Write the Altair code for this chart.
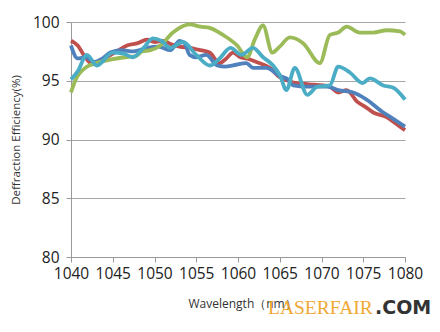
import altair as alt
import pandas as pd

red_x = [1040, 1040.8, 1041.7, 1042.6, 1043.5, 1044.5, 1045.5, 1046.7, 1048, 1049.1, 1050, 1051, 1052, 1053,
         1054.2, 1055.5, 1056.6, 1057.8, 1058.6, 1059.4, 1060.3, 1061, 1062.2, 1063.8, 1065, 1066, 1067,
         1068.5, 1070.2, 1071, 1072, 1073, 1074.3, 1075.2, 1076.2, 1077.8, 1079, 1080]
red_y = [98.4, 98.0, 97.0, 96.4, 96.6, 97.1, 97.5, 98.0, 98.2, 98.5, 98.3, 98.4, 98.1, 97.9,
         97.8, 97.6, 97.4, 96.5, 96.9, 97.4, 97.0, 96.9, 96.6, 96.1, 95.3, 95.0, 94.8,
         94.7, 94.6, 94.5, 94.0, 94.2, 93.2, 92.8, 92.3, 91.9, 91.3, 90.8]

blue_x = [1040, 1040.8, 1041.8, 1042.8, 1043.8, 1044.7, 1046, 1047.5, 1049.1, 1050.5, 1051.9, 1053, 1053.6,
          1054.2, 1055, 1056.2, 1057.5, 1058.5, 1059.4, 1061, 1061.8, 1063.4, 1065, 1066, 1066.6, 1068.3,
          1070.7, 1072, 1073.8, 1075.4, 1077.4, 1078.5, 1080]
blue_y = [98.0, 96.9, 97.0, 96.6, 96.9, 97.4, 97.6, 97.5, 97.8, 97.9, 97.6, 98.4, 98.2,
          97.2, 97.0, 97.2, 96.3, 96.2, 96.3, 96.5, 96.1, 96.1, 95.4, 95.1, 94.6, 94.5,
          94.5, 94.2, 94.0, 93.4, 92.3, 91.8, 91.1]

green_x = [1040, 1040.5, 1041.9, 1043, 1044.7, 1046.5, 1047.8, 1048.5, 1049.5, 1050.7, 1052.2, 1053, 1054.2,
           1055.5, 1056.6, 1058.2, 1059.9, 1061.1, 1062, 1063, 1064.1, 1065, 1066.2, 1067.8, 1069.8, 1071,
           1072, 1073, 1074.6, 1076.2, 1077.8, 1079.4, 1080]
green_y = [94.0, 95.0, 96.2, 96.5, 96.8, 97.0, 97.1, 97.5, 97.6, 98.0, 99.1, 99.5, 99.8,
           99.6, 99.5, 98.9, 98.0, 97.0, 98.5, 99.7, 97.4, 97.9, 98.7, 98.2, 96.5, 98.9,
           99.1, 99.6, 99.1, 99.1, 99.3, 99.2, 98.9]

cyan_x = [1040, 1040.8, 1041.9, 1043.1, 1045, 1046.3, 1047.4, 1048.7, 1049.8, 1050.8, 1051.9, 1053.4, 1055,
          1056.6, 1057.8, 1059.1, 1060.4, 1061.8, 1063, 1064.2, 1065, 1065.8, 1066.8, 1068.3, 1069.5, 1071,
          1072, 1073.4, 1074.9, 1075.8, 1077.4, 1078.6, 1080]
cyan_y = [95.1, 95.8, 97.2, 96.3, 97.4, 97.3, 97.0, 97.8, 98.6, 98.4, 97.8, 98.3, 97.2,
          96.3, 96.9, 97.8, 97.2, 97.8, 97.0, 96.3, 95.5, 94.2, 96.1, 93.8, 94.5, 94.6,
          96.2, 95.7, 94.8, 95.2, 94.6, 94.4, 93.4]

series_names = ["red", "blue", "green", "cyan"]
series_colors = ["#C0504D", "#4F81BD", "#9BBB59", "#4BACC6"]
x_ticks = [1040, 1045, 1050, 1055, 1060, 1065, 1070, 1075, 1080]
y_ticks = [80, 85, 90, 95, 100]

rows = []
for name, xs, ys in zip(series_names, [red_x, blue_x, green_x, cyan_x], [red_y, blue_y, green_y, cyan_y]):
    for i, (a, b) in enumerate(zip(xs, ys)):
        rows.append({"series": name, "wl": a, "eff": b, "order": i})
df = pd.DataFrame(rows)

lines = alt.Chart(df).mark_line(strokeWidth=3.8, interpolate="monotone").encode(
    x=alt.X("wl:Q", scale=alt.Scale(domain=[1040, 1080], nice=False),
            axis=alt.Axis(values=x_ticks, title="Wavelength（nm）", grid=False, format="d",
                          labelFontSize=15.5, labelFont="Open Sans", labelColor="#222",
                          labelOverlap=False, labelFlush=False,
                          labelPadding=4, tickSize=5, tickColor="#999", domainColor="#999",
                          titleFont="Open Sans", titleFontSize=12, titleFontWeight="normal",
                          titleColor="#333", titlePadding=17, titleX=117, titleAnchor="start",
                          titleAlign="left")),
    y=alt.Y("eff:Q", scale=alt.Scale(domain=[80, 100], nice=False),
            axis=alt.Axis(values=y_ticks, title="Deffraction Efficiency(%)", grid=True,
                          gridColor="#A6A6A6", gridWidth=1.2,
                          labelFontSize=15.5, labelFont="Open Sans", labelColor="#222",
                          labelPadding=7, tickSize=5, tickColor="#999", domainColor="#999",
                          titleFont="Open Sans", titleFontSize=11.5, titleFontWeight="normal",
                          titleColor="#333", titlePadding=11)),
    color=alt.Color("series:N", scale=alt.Scale(domain=series_names, range=series_colors), legend=None),
    order=alt.Order("order:Q"),
    detail="series:N",
)

wm1 = alt.Chart(pd.DataFrame({"t": ["LASERFAIR"]})).mark_text(
    font="Liberation Serif", fontSize=19.5, color="#F0A020", align="left", baseline="alphabetic", opacity=0.9
).encode(text="t:N", x=alt.value(197), y=alt.value(292))
wm2 = alt.Chart(pd.DataFrame({"t": [".COM"]})).mark_text(
    font="DejaVu Sans", fontSize=19, fontWeight="bold", color="#333333", align="left", baseline="alphabetic"
).encode(text="t:N", x=alt.value(304), y=alt.value(292))

chart = alt.layer(lines, wm1, wm2).properties(
    width=334, height=235,
    autosize=alt.AutoSizeParams(type="none"),
    padding={"left": 71, "top": 22, "right": 35, "bottom": 75},
    background="white",
).configure_view(stroke=None)

chart.save("out.html", embed_options={"renderer": "svg", "actions": False})
